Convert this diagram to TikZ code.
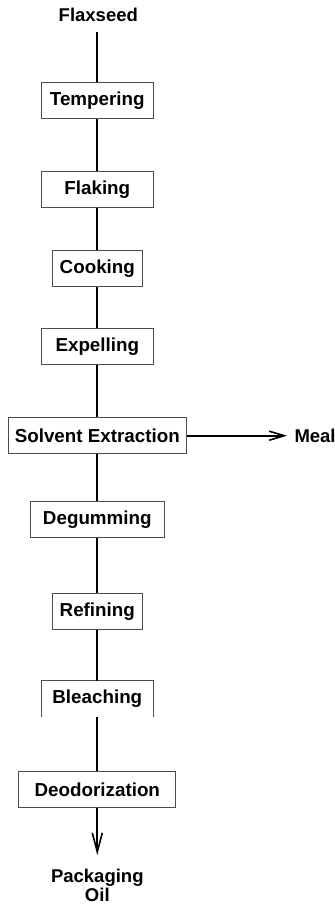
\documentclass[tikz,border=0pt]{standalone}
\usepackage{fontspec}
\setmainfont{Liberation Sans}
\usetikzlibrary{arrows.meta}
\begin{document}
\begin{tikzpicture}[x=1pt,y=-1pt,
  stepbox/.style={draw=black!70, line width=1pt, minimum height=35.7pt, inner sep=0pt,
    font=\fontsize{18.8}{22}\selectfont\bfseries},
  nobox/.style={inner sep=0pt, minimum height=35.7pt,
    font=\fontsize{18.8}{22}\selectfont\bfseries},
  lbl/.style={inner sep=0pt, anchor=base, font=\fontsize{18.5}{22}\selectfont\bfseries},
  conn/.style={line width=1.8pt, black},
  tiph/.style={-{Straight Barb[length=15pt,width=9pt,line width=1.6pt]}},
  tipv/.style={-{Straight Barb[length=19pt,width=10pt,line width=1.6pt]}}
]
\useasboundingbox (0,0) rectangle (335,906);
\node[lbl] (flax) at (98.3,21.3) {Flaxseed};
\coordinate (flaxb) at (97.3,32);
\node[stepbox, minimum width=112pt] (temp) at (97.3,100.3) {Tempering};
\node[stepbox, minimum width=112pt] (flak) at (97.3,189.2) {Flaking};
\node[stepbox, minimum width=90pt] (cook) at (97.3,268.3) {Cooking};
\node[stepbox, minimum width=112pt] (expe) at (97.3,346.8) {Expelling};
\node[stepbox, minimum width=178.3pt] (solv) at (97.3,435.7) {Solvent Extraction};
\node[stepbox, minimum width=134pt] (degu) at (97.3,519.5) {Degumming};
\node[stepbox, minimum width=90pt] (refi) at (97.3,611.2) {Refining};
\node[nobox, minimum width=112pt] (blea) at (97.3,698.8) {Bleaching};
\node[stepbox, minimum width=157.3pt] (deod) at (97.3,789.5) {Deodorization};
\node[lbl, anchor=base west] (meal) at (294.3,442.5) {Meal};
\coordinate (mealtip) at (287,435.7);
\node[lbl] (pack) at (97.3,882) {Packaging};
\node[lbl] (oil) at (97.3,901) {Oil};
\coordinate (packtip) at (97.3,855);

\draw[line width=1pt, black!70] (blea.south west) -- (blea.north west) -- (blea.north east) -- (blea.south east);

\draw[conn] (flaxb) -- (temp.north);
\draw[conn] (temp.south) -- (flak.north);
\draw[conn] (flak.south) -- (cook.north);
\draw[conn] (cook.south) -- (expe.north);
\draw[conn] (expe.south) -- (solv.north);
\draw[conn] (solv.south) -- (degu.north);
\draw[conn] (degu.south) -- (refi.north);
\draw[conn] (refi.south) -- (blea.north);
\draw[conn] (blea.south) -- (deod.north);
\draw[conn,tiph] (solv.east) -- (mealtip);
\draw[conn,tipv] (deod.south) -- (packtip);
\end{tikzpicture}
\end{document}
